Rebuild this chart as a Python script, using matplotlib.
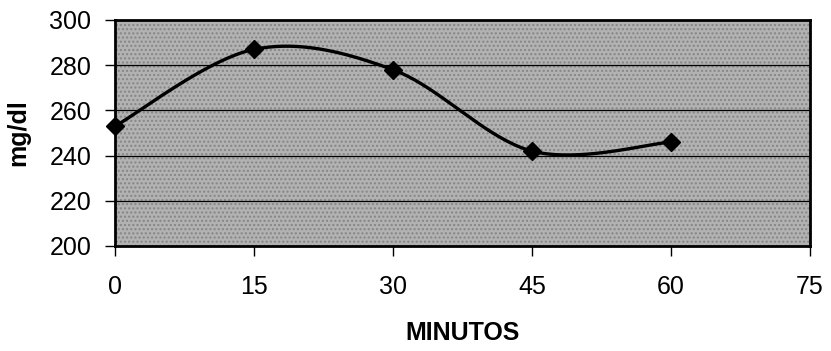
import numpy as np
import matplotlib
matplotlib.use("Agg")
import matplotlib.pyplot as plt

minutes = [0, 15, 30, 45, 60]
glucose = [253, 287, 278, 242, 246]
x_ticks = [0, 15, 30, 45, 60, 75]
y_ticks = [200, 220, 240, 260, 280, 300]

plt.rcParams['font.family'] = ['Liberation Sans', 'DejaVu Sans']
plt.rcParams['hatch.linewidth'] = 1.0

W, H = 831, 351
fig = plt.figure(figsize=(W / 100, H / 100), dpi=100)
ax = fig.add_axes([115 / W, 1 - 246 / H, 695 / W, 226 / H])
ax.set_xlim(0, 75)
ax.set_ylim(200, 300)
ax.set_facecolor('#b2b2b2')
# stipple texture
ax.add_patch(plt.Rectangle((0, 200), 75, 100, facecolor='none', edgecolor='#858585',
                           hatch='....', linewidth=0, zorder=0.5))

for yv in y_ticks[1:-1]:
    ax.axhline(yv, color='black', linewidth=0.9, zorder=1)

# Excel-style smoothed line (Catmull-Rom Bezier in display space)
fig.canvas.draw()
P = ax.transData.transform(np.column_stack([minutes, glucose]))
n = len(P)
pts = []
t = np.linspace(0, 1, 40)
for i in range(n - 1):
    p0 = P[max(i - 1, 0)]
    p1 = P[i]
    p2 = P[i + 1]
    p3 = P[min(i + 2, n - 1)]
    c1 = p1 + (p2 - p0) / 6.0
    c2 = p2 - (p3 - p1) / 6.0
    seg = ((1 - t) ** 3)[:, None] * p1 + (3 * (1 - t) ** 2 * t)[:, None] * c1 \
        + (3 * (1 - t) * t ** 2)[:, None] * c2 + (t ** 3)[:, None] * p2
    pts.append(seg)
curve = ax.transData.inverted().transform(np.vstack(pts))
ax.plot(curve[:, 0], curve[:, 1], color='black', linewidth=2.4, zorder=3, clip_on=False)
ax.plot(minutes, glucose, linestyle='none', marker='D', markersize=9,
        color='black', zorder=4, clip_on=False)

ax.set_xticks(x_ticks)
ax.set_yticks(y_ticks)
ax.tick_params(axis='both', direction='out', length=7, width=1, labelsize=18,
               colors='black')
ax.tick_params(axis='x', pad=14)
ax.tick_params(axis='y', pad=10)
for s in ax.spines.values():
    s.set_linewidth(2)
    s.set_color('black')

ax.set_xlabel('MINUTOS', fontsize=18, fontweight='bold', labelpad=16)
ax.set_ylabel('mg/dl', fontsize=18, fontweight='bold', labelpad=14)

fig.savefig('out.png', dpi=100)
